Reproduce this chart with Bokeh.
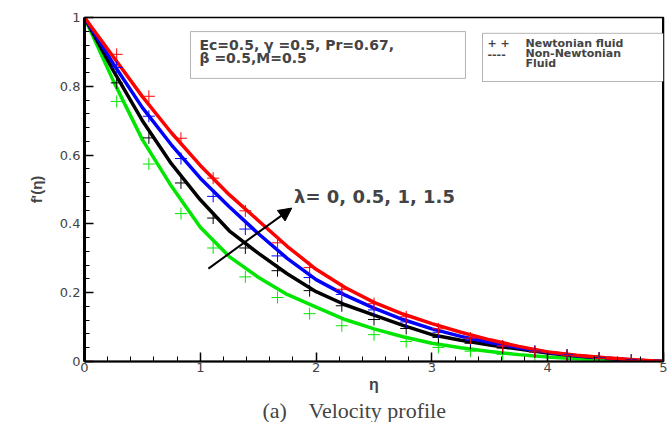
from bokeh.plotting import figure
from bokeh.models import (Range1d, FixedTicker, CustomJSTickFormatter, Label,
                          BoxAnnotation, Arrow, NormalHead, Span, Title)
from bokeh.embed import file_html
from bokeh.resources import INLINE

# ---- data ----
eta = [0, 0.25, 0.5, 0.75, 1.0, 1.25, 1.5, 1.75, 2.0, 2.25, 2.5, 2.75,
       3.0, 3.25, 3.5, 3.75, 4.0, 4.25, 4.5, 4.75, 5.0]
red_line = [1, 0.885, 0.77, 0.665, 0.57, 0.485, 0.41, 0.335, 0.268, 0.215, 0.172,
            0.138, 0.11, 0.085, 0.063, 0.044, 0.028, 0.018, 0.011, 0.005, 0]
blue_line = [1, 0.865, 0.738, 0.63, 0.533, 0.45, 0.372, 0.30, 0.238, 0.193, 0.155,
             0.122, 0.095, 0.073, 0.055, 0.04, 0.027, 0.017, 0.01, 0.004, 0]
black_line = [1, 0.845, 0.70, 0.575, 0.47, 0.38, 0.315, 0.255, 0.203, 0.165, 0.135,
              0.105, 0.078, 0.062, 0.048, 0.036, 0.025, 0.016, 0.009, 0.004, 0]
green_line = [1, 0.815, 0.645, 0.51, 0.39, 0.305, 0.245, 0.195, 0.158, 0.122, 0.095,
              0.072, 0.053, 0.04, 0.029, 0.02, 0.013, 0.008, 0.004, 0.002, 0]

eta_m = [0, 0.278, 0.556, 0.833, 1.111, 1.389, 1.667, 1.944, 2.222, 2.5, 2.778,
         3.056, 3.333, 3.611, 3.889, 4.167, 4.444, 4.722, 5.0]
red_pts = [1, 0.893, 0.771, 0.649, 0.533, 0.438, 0.345, 0.273, 0.21, 0.168, 0.13,
           0.095, 0.068, 0.045, 0.028, 0.017, 0.009, 0.003, 0]
blue_pts = [1, 0.855, 0.713, 0.59, 0.48, 0.385, 0.307, 0.244, 0.195, 0.15, 0.115,
            0.085, 0.062, 0.045, 0.03, 0.019, 0.01, 0.004, 0]
black_pts = [1, 0.81, 0.65, 0.519, 0.417, 0.33, 0.264, 0.206, 0.162, 0.122, 0.096,
             0.07, 0.053, 0.039, 0.028, 0.018, 0.01, 0.004, 0]
green_pts = [1, 0.756, 0.574, 0.43, 0.33, 0.246, 0.186, 0.139, 0.104, 0.078, 0.058,
             0.041, 0.03, 0.021, 0.014, 0.009, 0.005, 0.002, 0]

x_ticks = [0, 1, 2, 3, 4, 5]
y_ticks = [0, 0.2, 0.4, 0.6, 0.8, 1.0]

RED, BLUE, BLACK, GREEN = "#FF0000", "#0000FF", "#000000", "#00E600"

p = figure(width=668, height=422, output_backend="svg", toolbar_location=None,
           x_range=Range1d(0, 5), y_range=Range1d(0, 1),
           min_border_left=84, min_border_right=5, min_border_top=17,
           min_border_bottom=59)
p.grid.visible = False
p.outline_line_color = "black"
p.outline_line_width = 1.5

# curves (non-Newtonian)
for ys, c in [(green_line, GREEN), (black_line, BLACK), (blue_line, BLUE), (red_line, RED)]:
    p.line(eta, ys, line_color=c, line_width=3.5)
# markers (Newtonian)
for ys, c in [(green_pts, GREEN), (black_pts, BLACK), (blue_pts, BLUE), (red_pts, RED)]:
    p.scatter(eta_m, ys, marker="cross", size=12, line_color=c, line_width=1)

p.add_layout(Span(location=5, dimension="height", line_color="black", line_width=3))

fmt = CustomJSTickFormatter(code="""
    if (Math.abs(tick) < 1e-9) return "0";
    if (Math.abs(tick - Math.round(tick)) < 1e-9) return String(Math.round(tick));
    return tick.toFixed(1);
""")

xa = p.xaxis[0]
xa.ticker = FixedTicker(ticks=x_ticks, minor_ticks=[i * 0.2 for i in range(26)])
xa.formatter = fmt
xa.axis_line_width = 2
xa.major_tick_in = 9
xa.major_tick_out = 0
xa.minor_tick_in = 5
xa.minor_tick_out = 0
xa.major_tick_line_width = 1.5
xa.major_label_standoff = 1
xa.major_label_text_font = "DejaVu Sans"
xa.major_label_text_font_size = "13px"
xa.axis_label = "η"
xa.axis_label_text_font = "Liberation Sans"
xa.axis_label_text_font_style = "bold"
xa.axis_label_text_font_size = "16px"
xa.axis_label_standoff = 1

ya = p.yaxis[0]
ya.ticker = FixedTicker(ticks=y_ticks, minor_ticks=[i * 0.04 for i in range(26)])
ya.formatter = fmt
ya.axis_line_width = 3
ya.major_tick_in = 9
ya.major_tick_out = 0
ya.minor_tick_in = 5
ya.minor_tick_out = 0
ya.major_tick_line_width = 1.5
ya.major_label_standoff = 4
ya.major_label_text_font = "DejaVu Sans"
ya.major_label_text_font_size = "13px"
ya.axis_label = "f'(η)"
ya.axis_label_text_font = "Liberation Sans"
ya.axis_label_text_font_style = "bold"
ya.axis_label_text_font_size = "15px"
ya.axis_label_standoff = 12

# caption below the plot
cap = Title(text="(a)\u00a0\u00a0\u00a0 Velocity profile", align="left", offset=178,
            text_font="Liberation Serif", text_font_style="normal",
            text_font_size="22px", standoff=0)
p.add_layout(cap, "below")

# parameter box
p.add_layout(BoxAnnotation(left=0.915, right=3.29, bottom=0.823, top=0.959,
                           fill_color="white", fill_alpha=1, line_color="black",
                           line_width=1))
for txt, y in [("Ec=0.5, γ =0.5, Pr=0.67,", 0.921), ("β =0.5,M=0.5", 0.883)]:
    p.add_layout(Label(x=0.993, y=y, text=txt, text_font="DejaVu Sans",
                       text_font_style="bold", text_font_size="14px",
                       text_baseline="alphabetic"))

# legend box
p.add_layout(BoxAnnotation(left=3.437, right=5.0, bottom=0.814, top=0.954,
                           fill_color="white", fill_alpha=1, line_color="black",
                           line_width=1))
for txt, x, y in [("+ +", 3.48, 0.925), ("----", 3.48, 0.895),
                  ("Newtonian fluid", 3.808, 0.925), ("Non-Newtonian", 3.808, 0.895),
                  ("Fluid", 3.808, 0.865)]:
    p.add_layout(Label(x=x, y=y, text=txt, text_font="DejaVu Sans",
                       text_font_style="bold", text_font_size="11px",
                       text_baseline="alphabetic"))

# arrow + lambda text
p.add_layout(Arrow(end=NormalHead(size=13, fill_color="black", line_color="black"),
                   x_start=1.07, y_start=0.27, x_end=1.79, y_end=0.446,
                   line_width=2, line_color="black"))
p.add_layout(Label(x=1.81, y=0.481, text="λ= 0, 0.5, 1, 1.5", text_font="DejaVu Sans",
                   text_font_style="bold", text_font_size="18px",
                   text_baseline="alphabetic"))

open("out.html", "w").write(file_html(p, INLINE))
